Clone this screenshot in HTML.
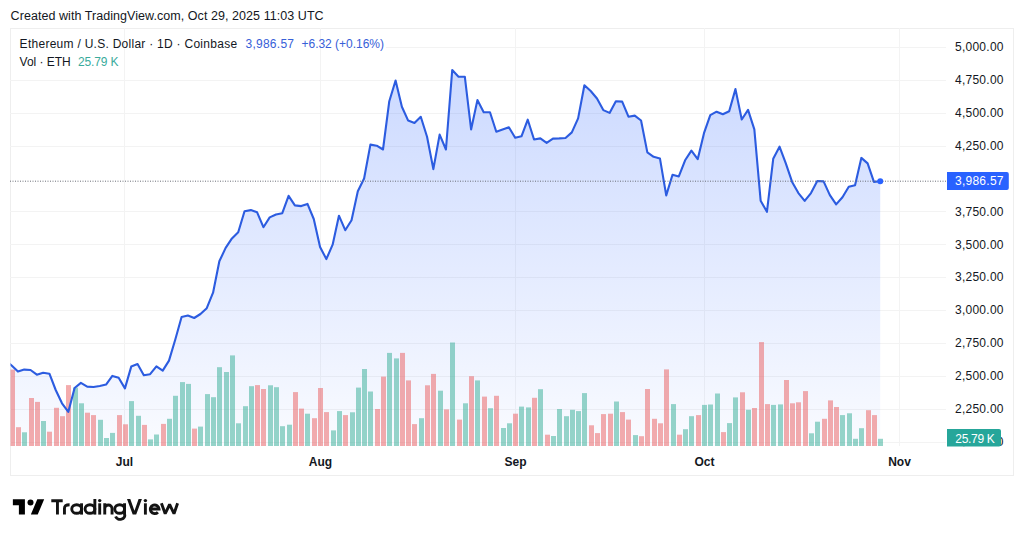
<!DOCTYPE html>
<html><head><meta charset="utf-8"><style>
html,body{margin:0;padding:0;background:#fff;width:1024px;height:539px;overflow:hidden}
svg{display:block;font-family:"Liberation Sans", sans-serif}
.frame{position:absolute;left:10px;top:28px;width:1002px;height:446px;border:1px solid #eeeeee;box-sizing:content-box}
</style></head><body>
<div class="frame"></div>
<svg width="1024" height="539" viewBox="0 0 1024 539" style="position:absolute;left:0;top:0">
<defs><linearGradient id="ag" gradientUnits="userSpaceOnUse" x1="0" y1="70" x2="0" y2="446"><stop offset="0" stop-color="#2962ff" stop-opacity="0.24"/><stop offset="1" stop-color="#2962ff" stop-opacity="0.025"/></linearGradient><clipPath id="c2k"><rect x="940" y="420" width="80" height="26.4"/></clipPath><clipPath id="pane"><rect x="10.5" y="28.5" width="936" height="418"/></clipPath></defs><line x1="10" x2="946" y1="442.5" y2="442.5" stroke="#f3f3f3" stroke-width="1"/><line x1="10" x2="946" y1="409.5" y2="409.5" stroke="#f3f3f3" stroke-width="1"/><line x1="10" x2="946" y1="376.5" y2="376.5" stroke="#f3f3f3" stroke-width="1"/><line x1="10" x2="946" y1="343.5" y2="343.5" stroke="#f3f3f3" stroke-width="1"/><line x1="10" x2="946" y1="310.5" y2="310.5" stroke="#f3f3f3" stroke-width="1"/><line x1="10" x2="946" y1="277.5" y2="277.5" stroke="#f3f3f3" stroke-width="1"/><line x1="10" x2="946" y1="244.5" y2="244.5" stroke="#f3f3f3" stroke-width="1"/><line x1="10" x2="946" y1="211.5" y2="211.5" stroke="#f3f3f3" stroke-width="1"/><line x1="10" x2="946" y1="146.5" y2="146.5" stroke="#f3f3f3" stroke-width="1"/><line x1="10" x2="946" y1="113.5" y2="113.5" stroke="#f3f3f3" stroke-width="1"/><line x1="10" x2="946" y1="80.5" y2="80.5" stroke="#f3f3f3" stroke-width="1"/><line x1="386" x2="946" y1="47.5" y2="47.5" stroke="#f3f3f3" stroke-width="1"/><line x1="124.5" x2="124.5" y1="28" y2="446" stroke="#f3f3f3" stroke-width="1"/><line x1="320.5" x2="320.5" y1="28" y2="446" stroke="#f3f3f3" stroke-width="1"/><line x1="515.5" x2="515.5" y1="28" y2="446" stroke="#f3f3f3" stroke-width="1"/><line x1="704.5" x2="704.5" y1="28" y2="446" stroke="#f3f3f3" stroke-width="1"/><line x1="899.5" x2="899.5" y1="28" y2="446" stroke="#f3f3f3" stroke-width="1"/><g clip-path="url(#pane)"><polygon points="5.36,446 5.36,360.5 11.65,365.5 17.94,371.6 24.24,369.6 30.53,370.0 36.83,374.7 43.12,372.7 49.41,373.7 55.71,390.0 62.00,403.3 68.30,411.9 74.59,388.0 80.88,382.9 87.18,386.6 93.47,387.0 99.77,386.0 106.06,384.6 112.35,375.9 118.65,377.8 124.94,388.4 131.24,366.6 137.53,364.1 143.82,375.2 150.12,374.2 156.41,366.4 162.71,370.6 169.00,360.6 175.29,339.5 181.59,317.0 187.88,315.6 194.18,318.0 200.47,314.0 206.76,308.2 213.06,292.7 219.35,261.3 225.65,247.9 231.94,238.4 238.23,232.3 244.53,211.2 250.82,210.1 257.12,212.3 263.41,227.2 269.70,217.4 276.00,214.5 282.29,213.2 288.59,195.8 294.88,205.4 301.17,206.1 307.47,203.9 313.76,219.0 320.06,246.9 326.35,259.1 332.64,244.7 338.94,215.7 345.23,230.2 351.53,220.2 357.82,191.2 364.11,178.5 370.41,144.6 376.70,145.7 383.00,149.5 389.29,101.2 395.58,80.5 401.88,106.8 408.17,120.6 414.47,123.0 420.76,116.8 427.05,136.8 433.35,169.1 439.64,134.6 445.94,149.5 452.23,70.0 458.52,76.7 464.82,76.7 471.11,129.5 477.41,100.1 483.70,112.3 489.99,112.3 496.29,131.7 502.58,129.5 508.88,127.3 515.17,137.8 521.46,136.3 527.76,119.7 534.05,139.5 540.35,138.4 546.64,142.9 552.93,138.6 559.23,138.4 565.52,138.0 571.82,132.4 578.11,118.4 584.40,85.2 590.70,91.0 596.99,98.5 603.29,110.1 609.58,112.9 615.87,101.2 622.17,101.6 628.46,116.7 634.76,115.6 641.05,120.5 647.34,152.4 653.64,156.8 659.93,158.4 666.23,195.4 672.52,174.7 678.81,176.4 685.11,160.3 691.40,150.6 697.70,159.2 703.99,133.2 710.28,115.1 716.58,111.7 722.87,114.3 729.17,111.2 735.46,89.1 741.75,119.5 748.05,109.9 754.34,129.4 760.64,200.7 766.93,211.8 773.22,158.8 779.52,146.7 785.81,163.4 792.11,181.9 798.40,193.1 804.69,200.9 810.99,193.1 817.28,181.0 823.58,181.4 829.87,195.1 836.16,204.4 842.46,197.2 848.75,186.8 855.05,185.2 861.34,157.9 867.63,163.4 873.93,181.9 880.22,181.2 880.22,446" fill="url(#ag)"/><rect x="10" y="369.6" width="5" height="76.4" fill="rgba(233,90,91,0.5)"/><rect x="16" y="427.2" width="5" height="18.8" fill="rgba(233,90,91,0.5)"/><rect x="22" y="432.3" width="5" height="13.7" fill="rgba(47,172,147,0.5)"/><rect x="29" y="398.0" width="5" height="48.0" fill="rgba(233,90,91,0.5)"/><rect x="35" y="401.9" width="5" height="44.1" fill="rgba(233,90,91,0.5)"/><rect x="41" y="421.0" width="5" height="25.0" fill="rgba(47,172,147,0.5)"/><rect x="47" y="431.7" width="5" height="14.3" fill="rgba(233,90,91,0.5)"/><rect x="54" y="407.8" width="5" height="38.2" fill="rgba(233,90,91,0.5)"/><rect x="60" y="416.2" width="5" height="29.8" fill="rgba(233,90,91,0.5)"/><rect x="66" y="385.1" width="5" height="60.9" fill="rgba(233,90,91,0.5)"/><rect x="73" y="387.6" width="5" height="58.4" fill="rgba(47,172,147,0.5)"/><rect x="79" y="403.3" width="5" height="42.7" fill="rgba(47,172,147,0.5)"/><rect x="85" y="412.7" width="5" height="33.3" fill="rgba(233,90,91,0.5)"/><rect x="91" y="415.1" width="5" height="30.9" fill="rgba(233,90,91,0.5)"/><rect x="98" y="419.8" width="5" height="26.2" fill="rgba(47,172,147,0.5)"/><rect x="104" y="438.0" width="5" height="8.0" fill="rgba(47,172,147,0.5)"/><rect x="110" y="432.9" width="5" height="13.1" fill="rgba(47,172,147,0.5)"/><rect x="117" y="415.1" width="5" height="30.9" fill="rgba(233,90,91,0.5)"/><rect x="123" y="424.3" width="5" height="21.7" fill="rgba(233,90,91,0.5)"/><rect x="129" y="401.1" width="5" height="44.9" fill="rgba(47,172,147,0.5)"/><rect x="136" y="415.8" width="5" height="30.2" fill="rgba(47,172,147,0.5)"/><rect x="142" y="424.9" width="5" height="21.1" fill="rgba(233,90,91,0.5)"/><rect x="148" y="439.4" width="5" height="6.6" fill="rgba(47,172,147,0.5)"/><rect x="154" y="434.5" width="5" height="11.5" fill="rgba(47,172,147,0.5)"/><rect x="161" y="423.9" width="5" height="22.1" fill="rgba(233,90,91,0.5)"/><rect x="167" y="418.8" width="5" height="27.2" fill="rgba(47,172,147,0.5)"/><rect x="173" y="395.8" width="5" height="50.2" fill="rgba(47,172,147,0.5)"/><rect x="180" y="382.1" width="5" height="63.9" fill="rgba(47,172,147,0.5)"/><rect x="186" y="383.9" width="5" height="62.1" fill="rgba(47,172,147,0.5)"/><rect x="192" y="428.6" width="5" height="17.4" fill="rgba(233,90,91,0.5)"/><rect x="198" y="426.6" width="5" height="19.4" fill="rgba(47,172,147,0.5)"/><rect x="205" y="394.1" width="5" height="51.9" fill="rgba(47,172,147,0.5)"/><rect x="211" y="397.2" width="5" height="48.8" fill="rgba(47,172,147,0.5)"/><rect x="217" y="367.2" width="5" height="78.8" fill="rgba(47,172,147,0.5)"/><rect x="224" y="372.0" width="5" height="74.0" fill="rgba(47,172,147,0.5)"/><rect x="230" y="355.4" width="5" height="90.6" fill="rgba(47,172,147,0.5)"/><rect x="236" y="423.3" width="5" height="22.7" fill="rgba(47,172,147,0.5)"/><rect x="243" y="406.2" width="5" height="39.8" fill="rgba(47,172,147,0.5)"/><rect x="249" y="386.2" width="5" height="59.8" fill="rgba(47,172,147,0.5)"/><rect x="255" y="385.1" width="5" height="60.9" fill="rgba(233,90,91,0.5)"/><rect x="261" y="389.0" width="5" height="57.0" fill="rgba(233,90,91,0.5)"/><rect x="268" y="385.3" width="5" height="60.7" fill="rgba(47,172,147,0.5)"/><rect x="274" y="387.2" width="5" height="58.8" fill="rgba(47,172,147,0.5)"/><rect x="280" y="426.2" width="5" height="19.8" fill="rgba(47,172,147,0.5)"/><rect x="287" y="424.7" width="5" height="21.3" fill="rgba(47,172,147,0.5)"/><rect x="293" y="392.1" width="5" height="53.9" fill="rgba(233,90,91,0.5)"/><rect x="299" y="408.6" width="5" height="37.4" fill="rgba(233,90,91,0.5)"/><rect x="305" y="413.7" width="5" height="32.3" fill="rgba(47,172,147,0.5)"/><rect x="312" y="418.2" width="5" height="27.8" fill="rgba(233,90,91,0.5)"/><rect x="318" y="388.0" width="5" height="58.0" fill="rgba(233,90,91,0.5)"/><rect x="324" y="412.1" width="5" height="33.9" fill="rgba(233,90,91,0.5)"/><rect x="331" y="430.4" width="5" height="15.6" fill="rgba(47,172,147,0.5)"/><rect x="337" y="411.1" width="5" height="34.9" fill="rgba(47,172,147,0.5)"/><rect x="343" y="415.1" width="5" height="30.9" fill="rgba(233,90,91,0.5)"/><rect x="350" y="412.3" width="5" height="33.7" fill="rgba(47,172,147,0.5)"/><rect x="356" y="387.6" width="5" height="58.4" fill="rgba(47,172,147,0.5)"/><rect x="362" y="369.0" width="5" height="77.0" fill="rgba(47,172,147,0.5)"/><rect x="368" y="391.5" width="5" height="54.5" fill="rgba(47,172,147,0.5)"/><rect x="375" y="409.0" width="5" height="37.0" fill="rgba(233,90,91,0.5)"/><rect x="381" y="376.6" width="5" height="69.4" fill="rgba(233,90,91,0.5)"/><rect x="387" y="352.9" width="5" height="93.1" fill="rgba(47,172,147,0.5)"/><rect x="394" y="358.4" width="5" height="87.6" fill="rgba(47,172,147,0.5)"/><rect x="400" y="352.9" width="5" height="93.1" fill="rgba(233,90,91,0.5)"/><rect x="406" y="380.4" width="5" height="65.6" fill="rgba(233,90,91,0.5)"/><rect x="412" y="424.1" width="5" height="21.9" fill="rgba(233,90,91,0.5)"/><rect x="419" y="418.2" width="5" height="27.8" fill="rgba(47,172,147,0.5)"/><rect x="425" y="385.3" width="5" height="60.7" fill="rgba(233,90,91,0.5)"/><rect x="431" y="373.9" width="5" height="72.1" fill="rgba(233,90,91,0.5)"/><rect x="438" y="390.7" width="5" height="55.3" fill="rgba(47,172,147,0.5)"/><rect x="444" y="409.4" width="5" height="36.6" fill="rgba(233,90,91,0.5)"/><rect x="450" y="342.5" width="5" height="103.5" fill="rgba(47,172,147,0.5)"/><rect x="457" y="419.6" width="5" height="26.4" fill="rgba(233,90,91,0.5)"/><rect x="463" y="403.3" width="5" height="42.7" fill="rgba(47,172,147,0.5)"/><rect x="469" y="376.2" width="5" height="69.8" fill="rgba(233,90,91,0.5)"/><rect x="475" y="380.4" width="5" height="65.6" fill="rgba(47,172,147,0.5)"/><rect x="482" y="396.6" width="5" height="49.4" fill="rgba(233,90,91,0.5)"/><rect x="488" y="408.2" width="5" height="37.8" fill="rgba(47,172,147,0.5)"/><rect x="494" y="395.8" width="5" height="50.2" fill="rgba(233,90,91,0.5)"/><rect x="501" y="428.0" width="5" height="18.0" fill="rgba(47,172,147,0.5)"/><rect x="507" y="423.3" width="5" height="22.7" fill="rgba(47,172,147,0.5)"/><rect x="513" y="413.7" width="5" height="32.3" fill="rgba(233,90,91,0.5)"/><rect x="519" y="406.6" width="5" height="39.4" fill="rgba(47,172,147,0.5)"/><rect x="526" y="407.4" width="5" height="38.6" fill="rgba(47,172,147,0.5)"/><rect x="532" y="397.8" width="5" height="48.2" fill="rgba(233,90,91,0.5)"/><rect x="538" y="389.2" width="5" height="56.8" fill="rgba(47,172,147,0.5)"/><rect x="545" y="434.7" width="5" height="11.3" fill="rgba(233,90,91,0.5)"/><rect x="551" y="436.0" width="5" height="10.0" fill="rgba(47,172,147,0.5)"/><rect x="557" y="409.0" width="5" height="37.0" fill="rgba(47,172,147,0.5)"/><rect x="564" y="416.2" width="5" height="29.8" fill="rgba(47,172,147,0.5)"/><rect x="570" y="409.8" width="5" height="36.2" fill="rgba(47,172,147,0.5)"/><rect x="576" y="411.1" width="5" height="34.9" fill="rgba(47,172,147,0.5)"/><rect x="582" y="393.1" width="5" height="52.9" fill="rgba(47,172,147,0.5)"/><rect x="589" y="425.3" width="5" height="20.7" fill="rgba(233,90,91,0.5)"/><rect x="595" y="433.1" width="5" height="12.9" fill="rgba(233,90,91,0.5)"/><rect x="601" y="414.1" width="5" height="31.9" fill="rgba(233,90,91,0.5)"/><rect x="608" y="413.7" width="5" height="32.3" fill="rgba(233,90,91,0.5)"/><rect x="614" y="401.5" width="5" height="44.5" fill="rgba(47,172,147,0.5)"/><rect x="620" y="412.1" width="5" height="33.9" fill="rgba(233,90,91,0.5)"/><rect x="626" y="419.6" width="5" height="26.4" fill="rgba(233,90,91,0.5)"/><rect x="633" y="435.1" width="5" height="10.9" fill="rgba(47,172,147,0.5)"/><rect x="639" y="436.2" width="5" height="9.8" fill="rgba(233,90,91,0.5)"/><rect x="645" y="389.0" width="5" height="57.0" fill="rgba(233,90,91,0.5)"/><rect x="652" y="418.8" width="5" height="27.2" fill="rgba(233,90,91,0.5)"/><rect x="658" y="423.3" width="5" height="22.7" fill="rgba(233,90,91,0.5)"/><rect x="664" y="369.4" width="5" height="76.6" fill="rgba(233,90,91,0.5)"/><rect x="671" y="404.1" width="5" height="41.9" fill="rgba(47,172,147,0.5)"/><rect x="677" y="434.7" width="5" height="11.3" fill="rgba(233,90,91,0.5)"/><rect x="683" y="429.2" width="5" height="16.8" fill="rgba(47,172,147,0.5)"/><rect x="689" y="416.2" width="5" height="29.8" fill="rgba(47,172,147,0.5)"/><rect x="696" y="415.1" width="5" height="30.9" fill="rgba(233,90,91,0.5)"/><rect x="702" y="404.9" width="5" height="41.1" fill="rgba(47,172,147,0.5)"/><rect x="708" y="404.5" width="5" height="41.5" fill="rgba(47,172,147,0.5)"/><rect x="715" y="393.5" width="5" height="52.5" fill="rgba(47,172,147,0.5)"/><rect x="721" y="432.1" width="5" height="13.9" fill="rgba(233,90,91,0.5)"/><rect x="727" y="423.1" width="5" height="22.9" fill="rgba(47,172,147,0.5)"/><rect x="733" y="397.4" width="5" height="48.6" fill="rgba(47,172,147,0.5)"/><rect x="740" y="392.3" width="5" height="53.7" fill="rgba(233,90,91,0.5)"/><rect x="746" y="409.8" width="5" height="36.2" fill="rgba(47,172,147,0.5)"/><rect x="752" y="408.0" width="5" height="38.0" fill="rgba(233,90,91,0.5)"/><rect x="759" y="342.1" width="5" height="103.9" fill="rgba(233,90,91,0.5)"/><rect x="765" y="404.1" width="5" height="41.9" fill="rgba(233,90,91,0.5)"/><rect x="771" y="404.9" width="5" height="41.1" fill="rgba(47,172,147,0.5)"/><rect x="778" y="404.4" width="5" height="41.6" fill="rgba(47,172,147,0.5)"/><rect x="784" y="380.0" width="5" height="66.0" fill="rgba(233,90,91,0.5)"/><rect x="790" y="403.3" width="5" height="42.7" fill="rgba(233,90,91,0.5)"/><rect x="796" y="402.3" width="5" height="43.7" fill="rgba(233,90,91,0.5)"/><rect x="803" y="391.1" width="5" height="54.9" fill="rgba(233,90,91,0.5)"/><rect x="809" y="433.3" width="5" height="12.7" fill="rgba(47,172,147,0.5)"/><rect x="815" y="421.7" width="5" height="24.3" fill="rgba(47,172,147,0.5)"/><rect x="822" y="418.8" width="5" height="27.2" fill="rgba(233,90,91,0.5)"/><rect x="828" y="400.4" width="5" height="45.6" fill="rgba(233,90,91,0.5)"/><rect x="834" y="407.0" width="5" height="39.0" fill="rgba(233,90,91,0.5)"/><rect x="840" y="415.1" width="5" height="30.9" fill="rgba(47,172,147,0.5)"/><rect x="847" y="413.3" width="5" height="32.7" fill="rgba(47,172,147,0.5)"/><rect x="853" y="438.8" width="5" height="7.2" fill="rgba(47,172,147,0.5)"/><rect x="859" y="428.2" width="5" height="17.8" fill="rgba(47,172,147,0.5)"/><rect x="866" y="410.2" width="5" height="35.8" fill="rgba(233,90,91,0.5)"/><rect x="872" y="415.1" width="5" height="30.9" fill="rgba(233,90,91,0.5)"/><rect x="878" y="438.8" width="5" height="7.2" fill="rgba(47,172,147,0.5)"/><polyline points="5.36,360.5 11.65,365.5 17.94,371.6 24.24,369.6 30.53,370.0 36.83,374.7 43.12,372.7 49.41,373.7 55.71,390.0 62.00,403.3 68.30,411.9 74.59,388.0 80.88,382.9 87.18,386.6 93.47,387.0 99.77,386.0 106.06,384.6 112.35,375.9 118.65,377.8 124.94,388.4 131.24,366.6 137.53,364.1 143.82,375.2 150.12,374.2 156.41,366.4 162.71,370.6 169.00,360.6 175.29,339.5 181.59,317.0 187.88,315.6 194.18,318.0 200.47,314.0 206.76,308.2 213.06,292.7 219.35,261.3 225.65,247.9 231.94,238.4 238.23,232.3 244.53,211.2 250.82,210.1 257.12,212.3 263.41,227.2 269.70,217.4 276.00,214.5 282.29,213.2 288.59,195.8 294.88,205.4 301.17,206.1 307.47,203.9 313.76,219.0 320.06,246.9 326.35,259.1 332.64,244.7 338.94,215.7 345.23,230.2 351.53,220.2 357.82,191.2 364.11,178.5 370.41,144.6 376.70,145.7 383.00,149.5 389.29,101.2 395.58,80.5 401.88,106.8 408.17,120.6 414.47,123.0 420.76,116.8 427.05,136.8 433.35,169.1 439.64,134.6 445.94,149.5 452.23,70.0 458.52,76.7 464.82,76.7 471.11,129.5 477.41,100.1 483.70,112.3 489.99,112.3 496.29,131.7 502.58,129.5 508.88,127.3 515.17,137.8 521.46,136.3 527.76,119.7 534.05,139.5 540.35,138.4 546.64,142.9 552.93,138.6 559.23,138.4 565.52,138.0 571.82,132.4 578.11,118.4 584.40,85.2 590.70,91.0 596.99,98.5 603.29,110.1 609.58,112.9 615.87,101.2 622.17,101.6 628.46,116.7 634.76,115.6 641.05,120.5 647.34,152.4 653.64,156.8 659.93,158.4 666.23,195.4 672.52,174.7 678.81,176.4 685.11,160.3 691.40,150.6 697.70,159.2 703.99,133.2 710.28,115.1 716.58,111.7 722.87,114.3 729.17,111.2 735.46,89.1 741.75,119.5 748.05,109.9 754.34,129.4 760.64,200.7 766.93,211.8 773.22,158.8 779.52,146.7 785.81,163.4 792.11,181.9 798.40,193.1 804.69,200.9 810.99,193.1 817.28,181.0 823.58,181.4 829.87,195.1 836.16,204.4 842.46,197.2 848.75,186.8 855.05,185.2 861.34,157.9 867.63,163.4 873.93,181.9 880.22,181.2" fill="none" stroke="#2c5ce0" stroke-width="2.1" stroke-linejoin="round"/></g><line x1="10" x2="946" y1="181.2" y2="181.2" stroke="#6b6e78" stroke-width="1" stroke-dasharray="1,1.5"/><circle cx="880.22" cy="181.2" r="3" fill="#2962ff"/><text x="955" y="445.9" textLength="48.5" lengthAdjust="spacing" font-size="12" fill="#131722" clip-path="url(#c2k)">2,000.00</text><text x="955" y="413.0" textLength="48.5" lengthAdjust="spacing" font-size="12" fill="#131722">2,250.00</text><text x="955" y="380.1" textLength="48.5" lengthAdjust="spacing" font-size="12" fill="#131722">2,500.00</text><text x="955" y="347.2" textLength="48.5" lengthAdjust="spacing" font-size="12" fill="#131722">2,750.00</text><text x="955" y="314.3" textLength="48.5" lengthAdjust="spacing" font-size="12" fill="#131722">3,000.00</text><text x="955" y="281.4" textLength="48.5" lengthAdjust="spacing" font-size="12" fill="#131722">3,250.00</text><text x="955" y="248.5" textLength="48.5" lengthAdjust="spacing" font-size="12" fill="#131722">3,500.00</text><text x="955" y="215.6" textLength="48.5" lengthAdjust="spacing" font-size="12" fill="#131722">3,750.00</text><text x="955" y="149.7" textLength="48.5" lengthAdjust="spacing" font-size="12" fill="#131722">4,250.00</text><text x="955" y="116.8" textLength="48.5" lengthAdjust="spacing" font-size="12" fill="#131722">4,500.00</text><text x="955" y="83.9" textLength="48.5" lengthAdjust="spacing" font-size="12" fill="#131722">4,750.00</text><text x="955" y="51.0" textLength="48.5" lengthAdjust="spacing" font-size="12" fill="#131722">5,000.00</text><path d="M947,172 H1006.8 a2,2 0 0 1 2,2 V188.1 a2,2 0 0 1 -2,2 H947 Z" fill="#2962ff"/><text x="955" y="185.2" textLength="48.5" lengthAdjust="spacing" font-size="12" fill="#ffffff">3,986.57</text><path d="M947,429 H999 a2,2 0 0 1 2,2 V444.4 a2,2 0 0 1 -2,2 H947 Z" fill="#26a69a"/><text x="955.3" y="442.6" textLength="39.5" lengthAdjust="spacing" font-size="12" fill="#ffffff">25.79 K</text><text x="124.5" y="466" text-anchor="middle" font-size="12" font-weight="bold" fill="#131722">Jul</text><text x="320.5" y="466" text-anchor="middle" font-size="12" font-weight="bold" fill="#131722">Aug</text><text x="515.5" y="466" text-anchor="middle" font-size="12" font-weight="bold" fill="#131722">Sep</text><text x="704.5" y="466" text-anchor="middle" font-size="12" font-weight="bold" fill="#131722">Oct</text><text x="899.5" y="466" text-anchor="middle" font-size="12" font-weight="bold" fill="#131722">Nov</text><text x="19.6" y="47.8" textLength="217.5" lengthAdjust="spacing" font-size="12" fill="#131722">Ethereum / U.S. Dollar · 1D · Coinbase</text><text x="245.5" y="47.8" textLength="48.5" lengthAdjust="spacing" font-size="12" fill="#3760d8">3,986.57</text><text x="301.5" y="47.8" textLength="82.5" lengthAdjust="spacing" font-size="12" fill="#3760d8">+6.32 (+0.16%)</text><text x="19.6" y="65.5" textLength="51" lengthAdjust="spacing" font-size="12" fill="#131722">Vol · ETH</text><text x="78" y="65.5" textLength="40.5" lengthAdjust="spacing" font-size="12" fill="#3aab9c">25.79 K</text><text x="10.6" y="20" textLength="313" lengthAdjust="spacing" font-size="12.5" fill="#131722">Created with TradingView.com, Oct 29, 2025 11:03 UTC</text><g transform="translate(12.87,495.7) scale(0.86)" fill="#000"><path d="M14 22H7V11H0V4h14v18zM28.9 22h-8l7.5-18h8L28.9 22z"/><circle cx="20.5" cy="7.8" r="3.5"/></g><g fill="none" stroke="#131313" stroke-width="2.9"><path d="M51.3,500.7 H62.7 M57.45,500.7 V514.6"/><path d="M64.45,514.6 V508.6 C64.45,505.3 66.3,504.75 69.6,504.75"/><ellipse cx="76.65" cy="509" rx="4.9" ry="4.3"/><path d="M81.55,503.3 V514.6"/><ellipse cx="89.95" cy="509" rx="4.9" ry="4.3"/><path d="M94.85,499 V514.6"/><path d="M99.7,503.3 V514.6"/><path d="M104.75,503.3 V514.6 M104.75,508.6 A3.65,3.65 0 0 1 112.05,508.6 V514.6"/><ellipse cx="119.65" cy="509" rx="4.9" ry="4.3"/><path d="M124.55,503.3 V514.2 A4.6,3.9 0 0 1 115.6,516.6"/><path d="M145.4,503.3 V514.6"/><path d="M150.35,509 H159.05 A4.35,4.3 0 1 0 157.9,512.2"/><path d="M161.4,503.3 L165.2,513.7 L169.6,504.5 L174,513.7 L177.6,503.3" stroke-linejoin="bevel"/></g><g fill="#131313"><polygon points="127,499 130.3,499 134.45,510.8 138.6,499 141.9,499 136.2,514.6 132.7,514.6"/><circle cx="99.7" cy="500.6" r="1.7"/><circle cx="145.4" cy="500.6" r="1.7"/></g>
</svg>
</body></html>
